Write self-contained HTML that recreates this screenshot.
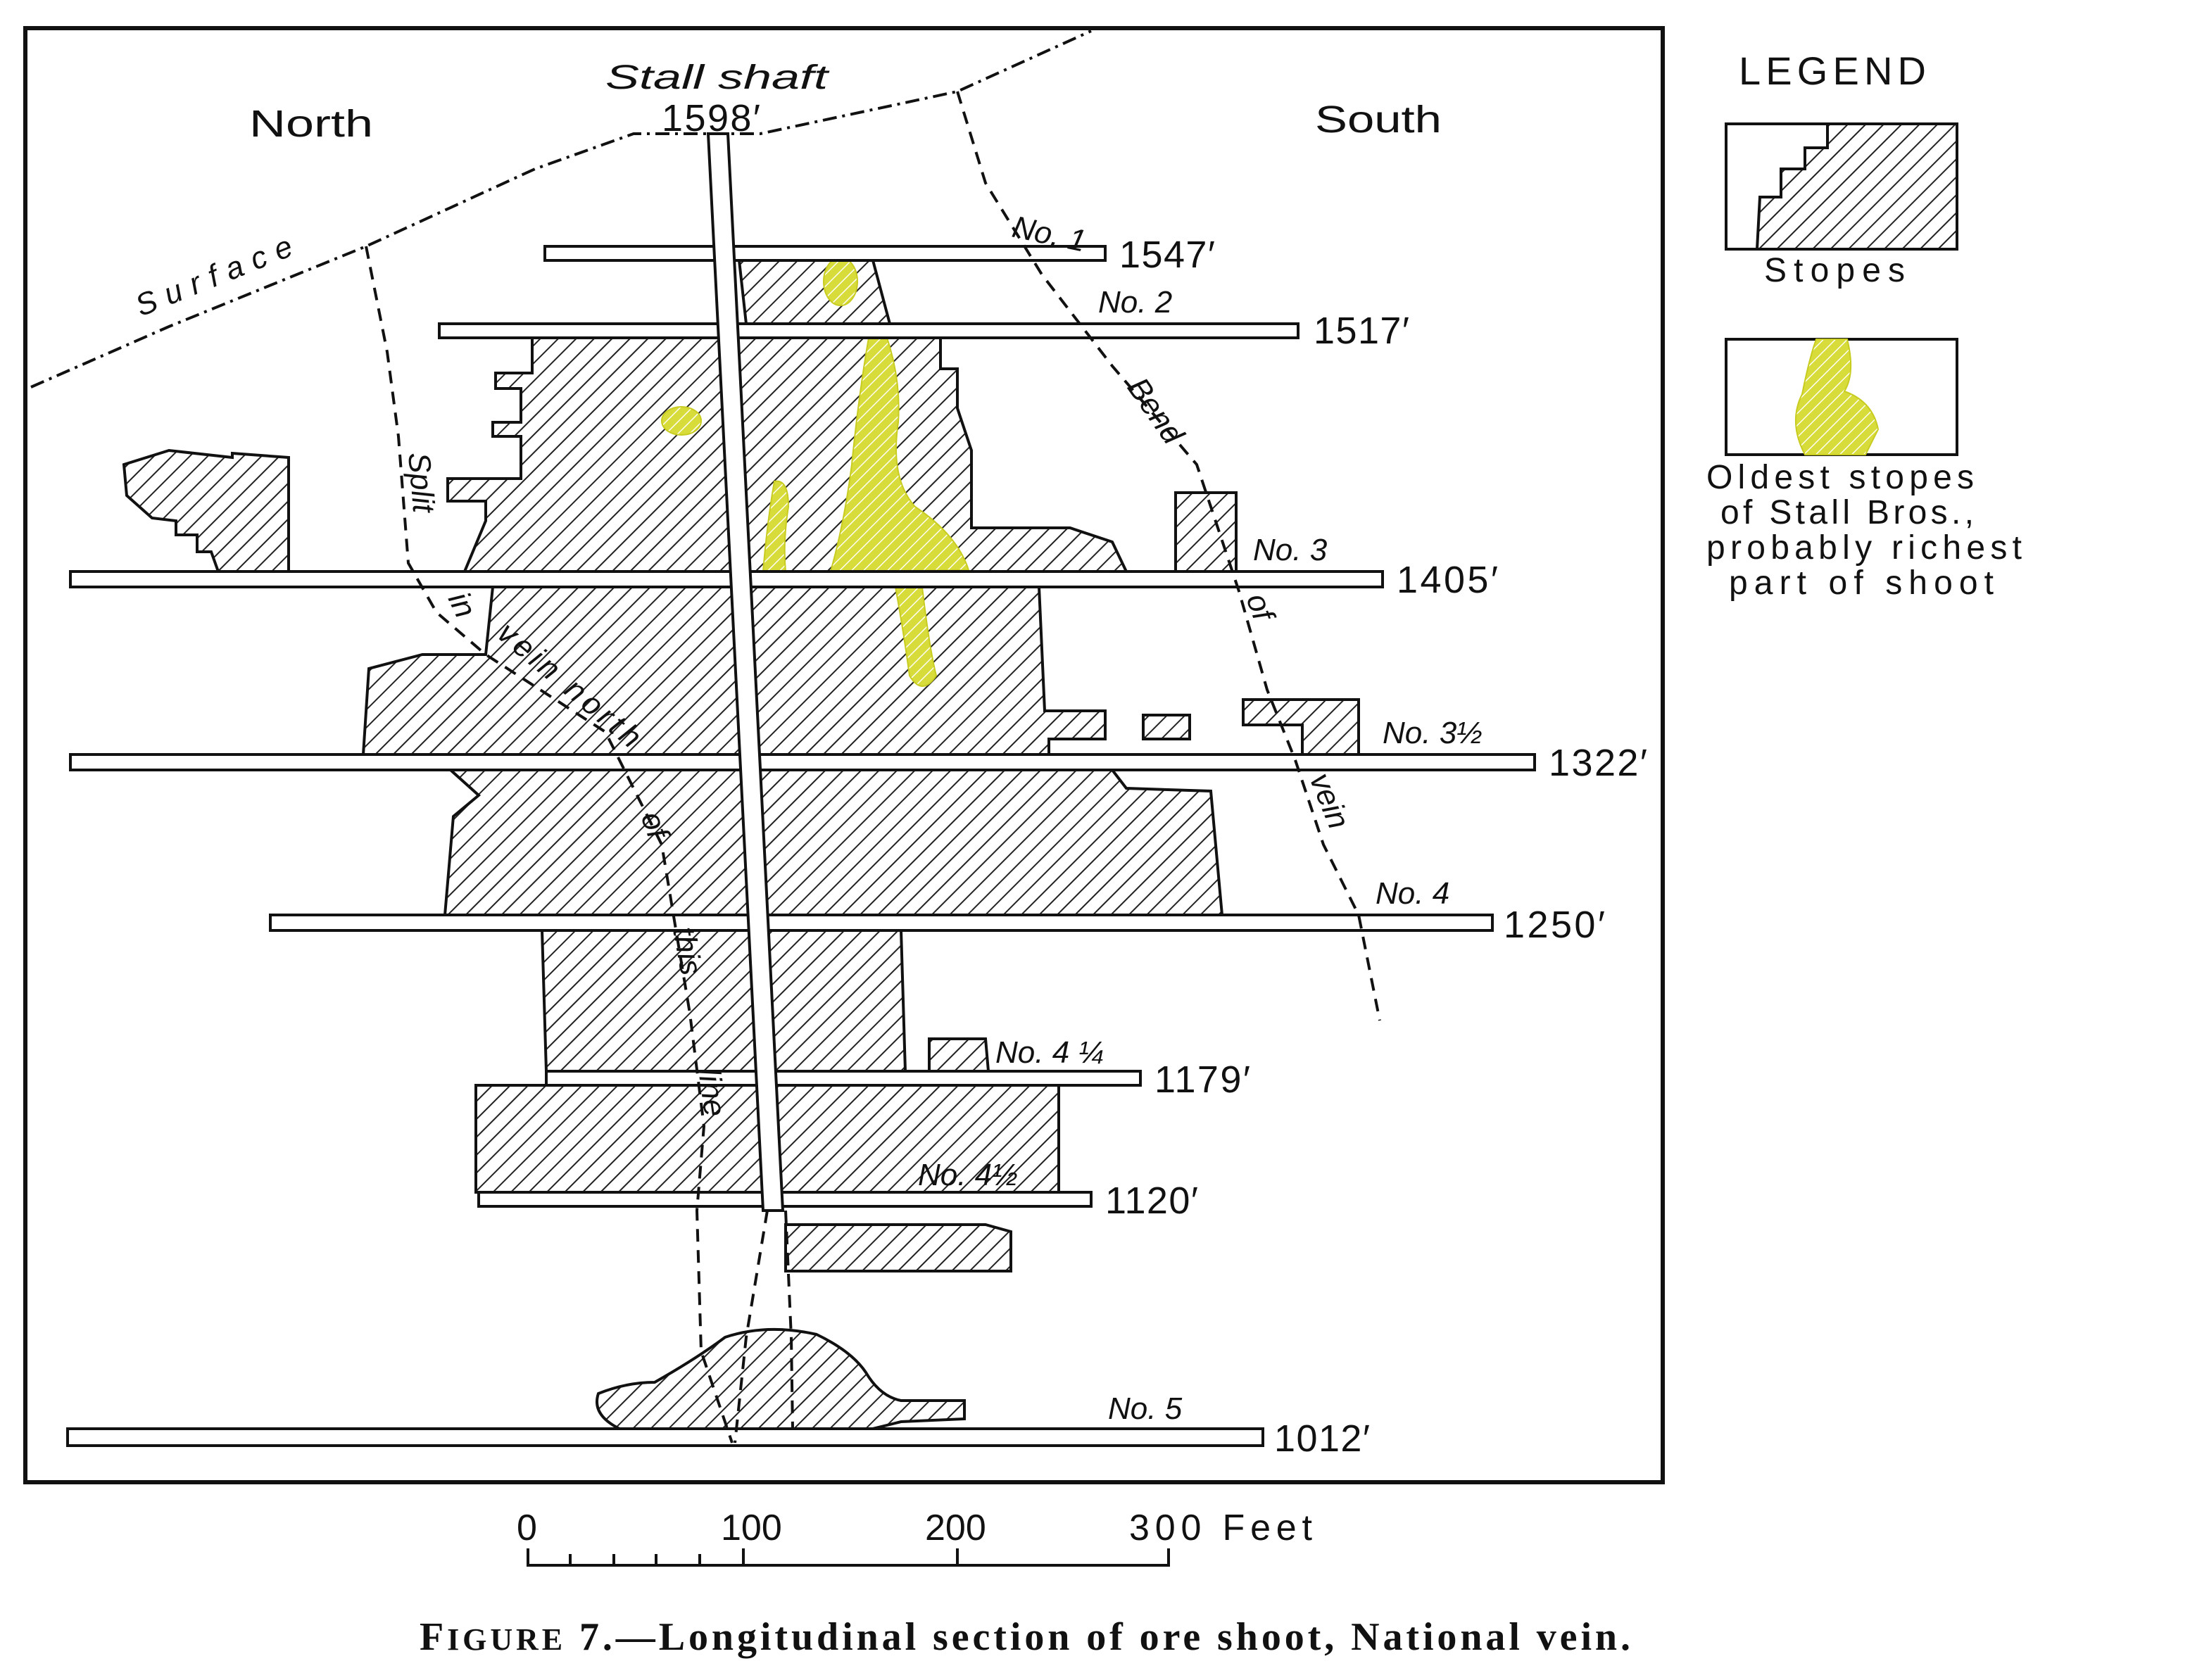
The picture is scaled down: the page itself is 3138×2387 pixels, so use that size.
<!DOCTYPE html>
<html><head><meta charset="utf-8"><style>
html,body{margin:0;padding:0;background:#fff}
svg{display:block}
text{font-family:"Liberation Sans",sans-serif;fill:#111}
.i{font-style:italic}
</style></head><body>
<svg width="3138" height="2387" viewBox="0 0 1569 1193.5" preserveAspectRatio="none" xmlns="http://www.w3.org/2000/svg">
<defs>
<pattern id="h" patternUnits="userSpaceOnUse" width="9" height="9" patternTransform="rotate(45)">
<rect width="9" height="9" fill="#fff"/><line x1="0" y1="0" x2="0" y2="9" stroke="#222" stroke-width="2"/></pattern>
<pattern id="y" patternUnits="userSpaceOnUse" width="6" height="6" patternTransform="rotate(45)">
<rect width="6" height="6" fill="#d8dc3a"/><line x1="0" y1="0" x2="0" y2="6" stroke="#fff" stroke-width="1.4"/></pattern>
</defs>
<rect x="18" y="20" width="1163" height="1033" fill="none" stroke="#111" stroke-width="3"/>
<g fill="url(#h)" stroke="#111" stroke-width="2">
<polygon points="525,185 620,185 632,230 530,230"/>
<polygon points="378,240 668,240 668,262 680,262 680,290 690,320 690,375 760,375 790,385 800,406 330,406 345,370 345,356 318,356 318,340 370,340 370,310 350,310 350,300 370,300 370,276 352,276 352,265 378,265"/>
<polygon points="88,330 120,320 165,325 165,322 205,325 205,406 155,406 150,392 140,392 140,380 125,380 125,370 108,368 90,352"/>
<polygon points="835,350 878,350 878,406 835,406"/>
<polygon points="350,417 738,417 742,505 785,505 785,525 745,525 745,536 258,536 262,475 300,465 345,465"/>
<rect x="812" y="508" width="33" height="17"/>
<polygon points="883,497 965,497 965,536 925,536 925,515 883,515"/>
<polygon points="320,547 790,547 800,560 860,562 868,650 316,650 322,580 340,565"/>
<polygon points="385,661 640,661 643,761 388,761"/>
<polygon points="660,738 700,738 702,761 660,761"/>
<polygon points="338,771 752,771 752,847 338,847"/>
<polygon points="558,870 700,870 718,875 718,903 558,903"/>
<path d="M425,990 Q445,982 465,982 Q495,965 515,950 Q545,940 580,948 Q605,960 615,975 Q625,992 640,995 L685,995 L685,1008 L640,1010 L620,1015 L440,1015 Q420,1005 425,990Z"/>
</g>
<g fill="url(#y)" stroke="#c8cc20" stroke-width="1">
<ellipse cx="597" cy="200" rx="12" ry="17"/>
<ellipse cx="484" cy="299" rx="14" ry="10"/>
<path d="M617,240 L630,240 Q640,270 638,300 Q632,340 650,360 Q680,380 688,405 L590,406 Q600,370 605,330 Q610,280 617,240Z"/>
<path d="M550,342 Q560,340 560,360 Q556,385 558,406 L542,406 Q545,370 550,342Z"/>
<path d="M636,417 L655,417 Q660,460 665,480 Q655,495 646,480 Q642,450 636,417Z"/>
</g>
<g fill="#fff" stroke="#111" stroke-width="2">
<rect x="387" y="175" width="398" height="10"/>
<rect x="312" y="230" width="610" height="10"/>
<rect x="50" y="406" width="932" height="11"/>
<rect x="50" y="536" width="1040" height="11"/>
<rect x="192" y="650" width="868" height="11"/>
<rect x="388" y="761" width="422" height="10"/>
<rect x="340" y="847" width="435" height="10"/>
<rect x="48" y="1015" width="849" height="12"/>
<polygon points="503,95 517,95 556,860 542,860"/>
</g>
<g fill="none" stroke="#111" stroke-width="2" stroke-dasharray="9,6">
<polyline points="22,275 120,232 260,175 380,120 450,95 540,95 680,65 775,22" stroke-dasharray="10,4,2,4"/>
<polyline points="260,175 275,250 283,310 290,400 310,435 345,465 430,520 470,600 490,720 500,800 495,860 498,960 520,1025"/>
<polyline points="680,65 700,130 740,195 790,260 850,330 880,420 900,490 920,540 940,600 965,650 980,725"/>
<polyline points="545,860 530,950 522,1025"/>
<polyline points="558,860 562,950 563,1015"/>
</g>
<g font-size="27">
<text x="177" y="97" textLength="88" lengthAdjust="spacingAndGlyphs">North</text>
<text x="934" y="94" textLength="90" lengthAdjust="spacingAndGlyphs">South</text>
<text x="430" y="63" class="i" font-size="24" textLength="158" lengthAdjust="spacingAndGlyphs">Stall shaft</text>
<text x="470" y="93" textLength="70">1598′</text>
<text x="795" y="190" textLength="68">1547′</text>
<text x="933" y="244" textLength="68">1517′</text>
<text x="992" y="421" textLength="72">1405′</text>
<text x="1100" y="551" textLength="70">1322′</text>
<text x="1068" y="666" textLength="72">1250′</text>
<text x="820" y="776" textLength="68">1179′</text>
<text x="785" y="862" textLength="66">1120′</text>
<text x="905" y="1031" textLength="68">1012′</text>
</g>
<g font-size="22" class="i">
<text x="718" y="168" transform="rotate(12 718 168)">No. 1</text>
<text x="780" y="222">No. 2</text>
<text x="890" y="398">No. 3</text>
<text x="982" y="528">No. 3½</text>
<text x="977" y="642">No. 4</text>
<text x="707" y="755">No. 4 ¼</text>
<text x="652" y="842">No. 4½</text>
<text x="787" y="1008">No. 5</text>
<text x="100" y="225" transform="rotate(-22 100 225)" textLength="118">Surface</text>
<text x="290" y="322" transform="rotate(85 290 322)">Split</text>
<text x="318" y="425" transform="rotate(65 318 425)">in</text>
<text x="352" y="452" transform="rotate(40 352 452)" textLength="125">vein north</text>
<text x="455" y="580" transform="rotate(70 455 580)">of</text>
<text x="478" y="660" transform="rotate(80 478 660)">this</text>
<text x="496" y="760" transform="rotate(82 496 760)">line</text>
<text x="800" y="275" transform="rotate(55 800 275)">Bend</text>
<text x="885" y="425" transform="rotate(70 885 425)">of</text>
<text x="930" y="553" transform="rotate(68 930 553)">vein</text>
</g>
<text x="1235" y="60" font-size="28" textLength="133">LEGEND</text>
<rect x="1226" y="88" width="164" height="89" fill="#fff" stroke="#111" stroke-width="2"/>
<polygon points="1248,177 1250,140 1265,140 1265,120 1282,120 1282,105 1298,105 1298,88 1390,88 1390,177" fill="url(#h)" stroke="#111" stroke-width="2"/>
<text x="1253" y="200" font-size="24" textLength="100">Stopes</text>
<rect x="1226" y="241" width="164" height="82" fill="#fff" stroke="#111" stroke-width="2"/>
<path d="M1290,241 L1312,241 Q1318,265 1310,278 Q1330,285 1334,305 L1325,323 L1282,323 Q1270,300 1280,280 Q1285,255 1290,241Z" fill="url(#y)" stroke="#c8cc20"/>
<g font-size="24"><text x="1212" y="347" textLength="190">Oldest stopes</text><text x="1222" y="372" textLength="180">of Stall Bros.,</text><text x="1212" y="397" textLength="224">probably richest</text><text x="1228" y="422" textLength="188">part of shoot</text></g>
<g stroke="#111" stroke-width="2">
<line x1="375" y1="1112" x2="830" y2="1112"/>
<line x1="375" y1="1100" x2="375" y2="1113"/><line x1="528" y1="1100" x2="528" y2="1113"/><line x1="680" y1="1100" x2="680" y2="1113"/><line x1="830" y1="1100" x2="830" y2="1113"/>
<line x1="405" y1="1104" x2="405" y2="1112"/><line x1="436" y1="1104" x2="436" y2="1112"/><line x1="466" y1="1104" x2="466" y2="1112"/><line x1="497" y1="1104" x2="497" y2="1112"/>
</g>
<g font-size="26"><text x="367" y="1094">0</text><text x="512" y="1094">100</text><text x="657" y="1094">200</text><text x="802" y="1094" textLength="130">300 Feet</text></g>
<text x="298" y="1172" font-size="28" font-weight="bold" textLength="860" lengthAdjust="spacing" style="font-family:'Liberation Serif',serif">F<tspan font-size="22">IGURE</tspan> 7.—Longitudinal section of ore shoot, National vein.</text>
</svg>
</body></html>
